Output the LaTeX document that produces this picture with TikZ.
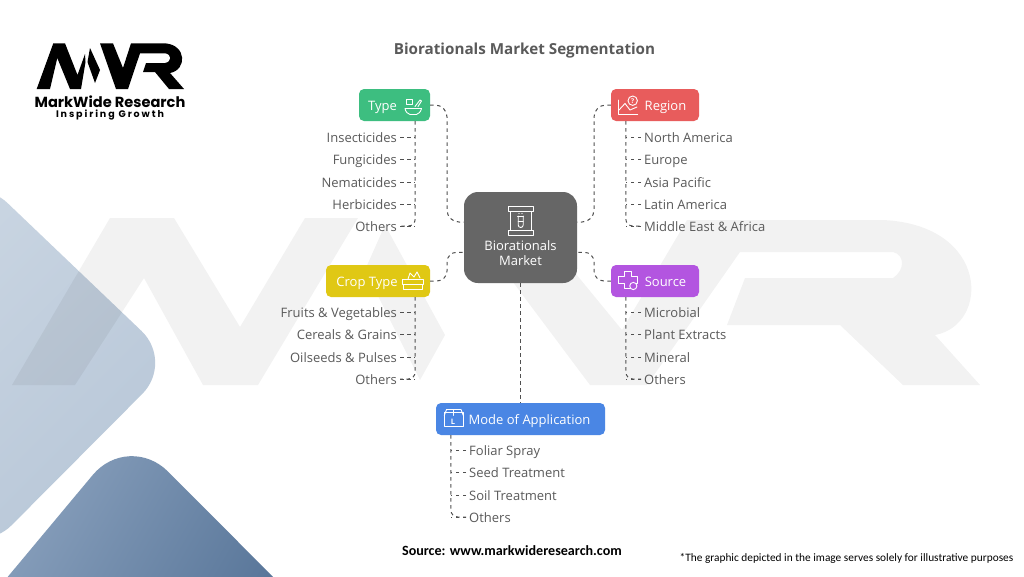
\documentclass[tikz,border=0pt]{standalone}
\usepackage{fontspec}
\usepackage{tikz}
\usepackage{xcolor}
\usetikzlibrary{positioning, calc}
\setmainfont{Open Sans}
\newfontfamily\logofont{Poppins}
\newfontfamily\logospaced[LetterSpace=20]{Poppins}
\newfontfamily\notefont{Carlito}
\definecolor{cGreen}{RGB}{61,190,128}
\definecolor{cRed}{RGB}{232,92,92}
\definecolor{cYellow}{RGB}{224,200,20}
\definecolor{cPurple}{RGB}{179,85,224}
\definecolor{cBlue}{RGB}{74,134,228}
\definecolor{cHub}{RGB}{102,102,102}
\definecolor{cText}{RGB}{90,90,90}
\definecolor{cLine}{RGB}{80,80,80}
\definecolor{cPaleA}{RGB}{205,216,228}
\definecolor{cPaleB}{RGB}{184,199,216}
\definecolor{cDeepA}{RGB}{146,168,195}
\definecolor{cDeepB}{RGB}{84,114,150}
\tikzset{
	catbox/.style ={rectangle, rounded corners=5pt, minimum height=32pt, inner sep=0pt, text height=11pt, text depth=1pt, text=white, font=\fontsize{13}{15}\selectfont},
	hubbox/.style ={rectangle, rounded corners=14pt, fill=cHub, minimum width=113pt, minimum height=91pt, inner sep=0pt, align=center, text=white, font=\fontsize{13}{15}\selectfont},
	itemleft/.style ={anchor=east, inner sep=3pt, text height=11pt, text depth=1pt, text=cText, font=\fontsize{13}{15}\selectfont},
	itemright/.style={anchor=west, inner sep=3pt, text height=11pt, text depth=1pt, text=cText, font=\fontsize{13}{15}\selectfont},
	link/.style   ={draw=cLine, line width=1pt, dash pattern=on 3.5pt off 3.5pt},
	icon/.style   ={draw=white, line width=0.9pt, line join=round, line cap=round},
	wmark/.style  ={fill=black, opacity=0.05},
}

\begin{document}
\begin{tikzpicture}[x=1pt, y=-1pt]
	\clip (0,0) rectangle (1024,576);
	\fill[white] (0,0) rectangle (1024,576);
	% backdrop
	\shade[top color=cPaleA, bottom color=cPaleB, shading angle=45, rounded corners=45pt] (-25,172) -- (174,362) -- (-20,557) -- (-200,365) -- cycle;
	\shade[top color=cDeepA, bottom color=cDeepB, shading angle=60, rounded corners=56pt] (128.6,432) -- (320,624) -- (-70,670) -- cycle;
	% faint letters
	\fill[wmark] (12,385) -- (110,218) -- (174,218) -- (240,327) -- (305,218) -- (358,218) -- (258,385) -- (203,385) -- (144,278) -- (75,385) -- cycle;
	\fill[wmark] (385,225) -- (445,335) -- (420,380) -- (365,270) -- cycle;
	\fill[wmark] (465,218) -- (530,218) -- (622,330) -- (687,220) -- (883,220) .. controls (990,225) and (990,325) .. (935,335) -- (980,385) -- (903,385) -- (840,325) -- (727,325) -- (745,278) -- (893,278) .. controls (905,270) and (905,255) .. (893,252) -- (740,252) -- (647,385) -- (590,385) -- cycle;
	% logo
	\fill (36.7,89) -- (53.3,43.3) -- (65,43.3) -- (77.5,75) -- (85,54) -- (85.5,62) -- (81,89) -- (70,89) -- (57.3,58) -- (50,89) -- cycle;
	\fill (90,48) -- (100,70) -- (95,83) -- (87.5,62) -- cycle;
	\fill (100,43.3) -- (113,43.3) -- (123,68) -- (131,43.3) -- (165,43.3) .. controls (187,45) and (187,70) .. (170,73) -- (184,89) -- (169,89) -- (155,72) -- (143,72) -- (146,63) -- (165,63) .. controls (172,62) and (172,54) .. (165,53.3) -- (140,53.3) -- (128,89) -- (116,89) -- cycle;
	\node[inner sep=0pt, font=\logofont\bfseries\fontsize{14.6}{16}\selectfont] (logoname) at (110,101.5) {MarkWide Research};
	\node[inner sep=0pt, font=\logospaced\bfseries\fontsize{9.5}{11}\selectfont] (logotag) at (110,114.5) {Inspiring Growth};
	\node[font=\bfseries\fontsize{15.2}{17}\selectfont, text=cText] (title) at (524.5,51) {Biorationals Market Segmentation};

	\node[hubbox] (hub) at (520.5,237.5) {\mbox{}\\[27pt]Biorationals\\Market};
	\node[catbox, fill=cGreen, minimum width=71pt] (typebox) at (394.5,105) {Type\hspace{24pt}\mbox{}};
	\node[catbox, fill=cRed, minimum width=88pt] (regionbox) at (655,105) {\hspace{21pt}Region};
	\node[catbox, fill=cYellow, minimum width=104pt] (cropbox) at (378,281) {Crop Type\hspace{22pt}\mbox{}};
	\node[catbox, fill=cPurple, minimum width=88pt] (sourcebox) at (655,281) {\hspace{21pt}Source};
	\node[catbox, fill=cBlue, minimum width=169pt] (modebox) at (520.5,419) {\hspace{18pt}Mode of Application};

	\coordinate (typetrunk) at ([xshift=-15pt]typebox.south east);
	\coordinate (regiontrunk) at ([xshift=15pt]regionbox.south west);
	\coordinate (croptrunk) at ([xshift=-15pt]cropbox.south east);
	\coordinate (sourcetrunk) at ([xshift=15pt]sourcebox.south west);
	\coordinate (modetrunk) at ([xshift=15pt]modebox.south west);

	% left lists
	\foreach \nm/\lbl/\ypos in {typeA/Insecticides/137, typeB/Fungicides/159.5, typeC/Nematicides/182, typeD/Herbicides/204, typeE/Others/226} {
		\node[itemleft] (\nm) at (400,\ypos) {\lbl};
		\draw[link] (\nm.east) -- (\nm.east -| typetrunk);
	}
	\foreach \nm/\lbl/\ypos in {cropA/Fruits \& Vegetables/312, cropB/Cereals \& Grains/334.5, cropC/Oilseeds \& Pulses/357, cropD/Others/379} {
		\node[itemleft] (\nm) at (400,\ypos) {\lbl};
		\draw[link] (\nm.east) -- (\nm.east -| croptrunk);
	}
	% right lists
	\foreach \nm/\lbl/\ypos in {regionA/North America/137, regionB/Europe/159.5, regionC/Asia Pacific/182, regionD/Latin America/204, regionE/Middle East \& Africa/226} {
		\node[itemright] (\nm) at (641,\ypos) {\lbl};
		\draw[link] (\nm.west) -- (\nm.west -| regiontrunk);
	}
	\foreach \nm/\lbl/\ypos in {sourceA/Microbial/312, sourceB/Plant Extracts/334.5, sourceC/Mineral/357, sourceD/Others/379} {
		\node[itemright] (\nm) at (641,\ypos) {\lbl};
		\draw[link] (\nm.west) -- (\nm.west -| sourcetrunk);
	}
	\foreach \nm/\lbl/\ypos in {modeA/Foliar Spray/450, modeB/Seed Treatment/472.5, modeC/Soil Treatment/495, modeD/Others/517} {
		\node[itemright] (\nm) at (466,\ypos) {\lbl};
		\draw[link] (\nm.west) -- (\nm.west -| modetrunk);
	}

	% trunks
	\draw[link, rounded corners=7pt] (typetrunk) -- (typeE.east -| typetrunk) -- (typeE.east);
	\draw[link, rounded corners=7pt] (croptrunk) -- (cropD.east -| croptrunk) -- (cropD.east);
	\draw[link, rounded corners=7pt] (regiontrunk) -- (regionE.west -| regiontrunk) -- (regionE.west);
	\draw[link, rounded corners=7pt] (sourcetrunk) -- (sourceD.west -| sourcetrunk) -- (sourceD.west);
	\draw[link, rounded corners=7pt] (modetrunk) -- (modeD.west -| modetrunk) -- (modeD.west);

	% hub links
	\coordinate (hubNW) at ([yshift=15.5pt]hub.west);
	\coordinate (hubNE) at ([yshift=15.5pt]hub.east);
	\coordinate (hubSW) at ([yshift=-15pt]hub.west);
	\coordinate (hubSE) at ([yshift=-15pt]hub.east);
	\coordinate (typebend) at (447,222);
	\coordinate (regionbend) at (594,222);
	\coordinate (cropbend) at (447,252);
	\coordinate (sourcebend) at (594,252);
	\draw[link, rounded corners=12pt] (typebox.east) -| (typebend) -- (hubNW);
	\draw[link, rounded corners=12pt] (regionbox.west) -| (regionbend) -- (hubNE);
	\draw[link, rounded corners=10pt] (cropbox.east) -| (cropbend) -- (hubSW);
	\draw[link, rounded corners=10pt] (sourcebox.west) -| (sourcebend) -- (hubSE);
	\draw[link] (hub.south) -- (modebox.north);

	% icons
	\draw[icon] (405,108.5) -- (421.5,108.5) .. controls (421,112) and (418,114) .. (416.5,114.5) -- (410,114.5) .. controls (408,114) and (405.5,112) .. (405,108.5) -- cycle;
	\draw[icon] (415,106.5) -- (420,100) -- (421.5,101) -- (418,106.5);
	\draw[icon] (406.5,99.5) rectangle (412,104.5);
	\draw[icon] (618.3,100) -- (618.3,114) -- (637.7,114);
	\draw[icon] (619,110) -- (625,103.5) -- (630,110) -- (637,107);
	\draw[icon] (632.7,100.7) circle (4.7pt);
	\node[inner sep=0pt, text=white, font=\fontsize{6.5}{7}\selectfont\bfseries] (regionmark) at (632.7,100.7) {?};
	\draw[icon] (402.7,279.5) rectangle (423.3,284);
	\draw[icon] (403.5,284) rectangle (422.5,289.5);
	\draw[icon] (408,279) -- (410,273) -- (414,277) -- (417,272) -- (420,278);
	\draw[icon] (624,271.5) -- (631,271.5) -- (631,276) -- (637,276) -- (637,283) -- (631,283) -- (631,288) -- (624,288) -- (624,283) -- (618,283) -- (618,276) -- (624,276) -- cycle;
	\draw[icon, fill=cPurple] (633.3,286) circle (3.6pt);
	\draw[icon] (444.3,412) rectangle (463.3,426.7);
	\draw[icon] (444.3,415.5) -- (446.5,409.5) -- (461,409.5) -- (463.3,415.5);
	\draw[icon] (453.5,409.5) -- (453.5,415.5);
	\node[inner sep=0pt, text=white, font=\fontsize{7.5}{8}\selectfont\bfseries] (modemark) at (453,421.5) {L};
	\draw[icon] (508.5,206) rectangle (533,211.5);
	\draw[icon] (508.5,230) rectangle (533,235);
	\draw[icon] (510,211.5) -- (510,230);
	\draw[icon] (531.5,211.5) -- (531.5,230);
	\draw[icon] (517.5,216) -- (523.5,216);
	\draw[icon] (518.2,216) -- (518.2,225) arc[start angle=180, end angle=360, radius=2.5pt] -- (523.2,216);
	\draw[icon] (518.2,221) -- (523.2,221);
	\fill[white] (519,213.5) circle (0.6pt) (522,213.5) circle (0.6pt);

	% source lines
	\node[inner sep=0pt, font=\notefont\bfseries\fontsize{14.1}{16}\selectfont] (sourceline) at (512,551) {Source: www.markwideresearch.com};
	\node[inner sep=0pt, font=\notefont\fontsize{11.35}{14}\selectfont] (noteline) at (846.5,558) {*The graphic depicted in the image serves solely for illustrative purposes};
\end{tikzpicture}
\end{document}
